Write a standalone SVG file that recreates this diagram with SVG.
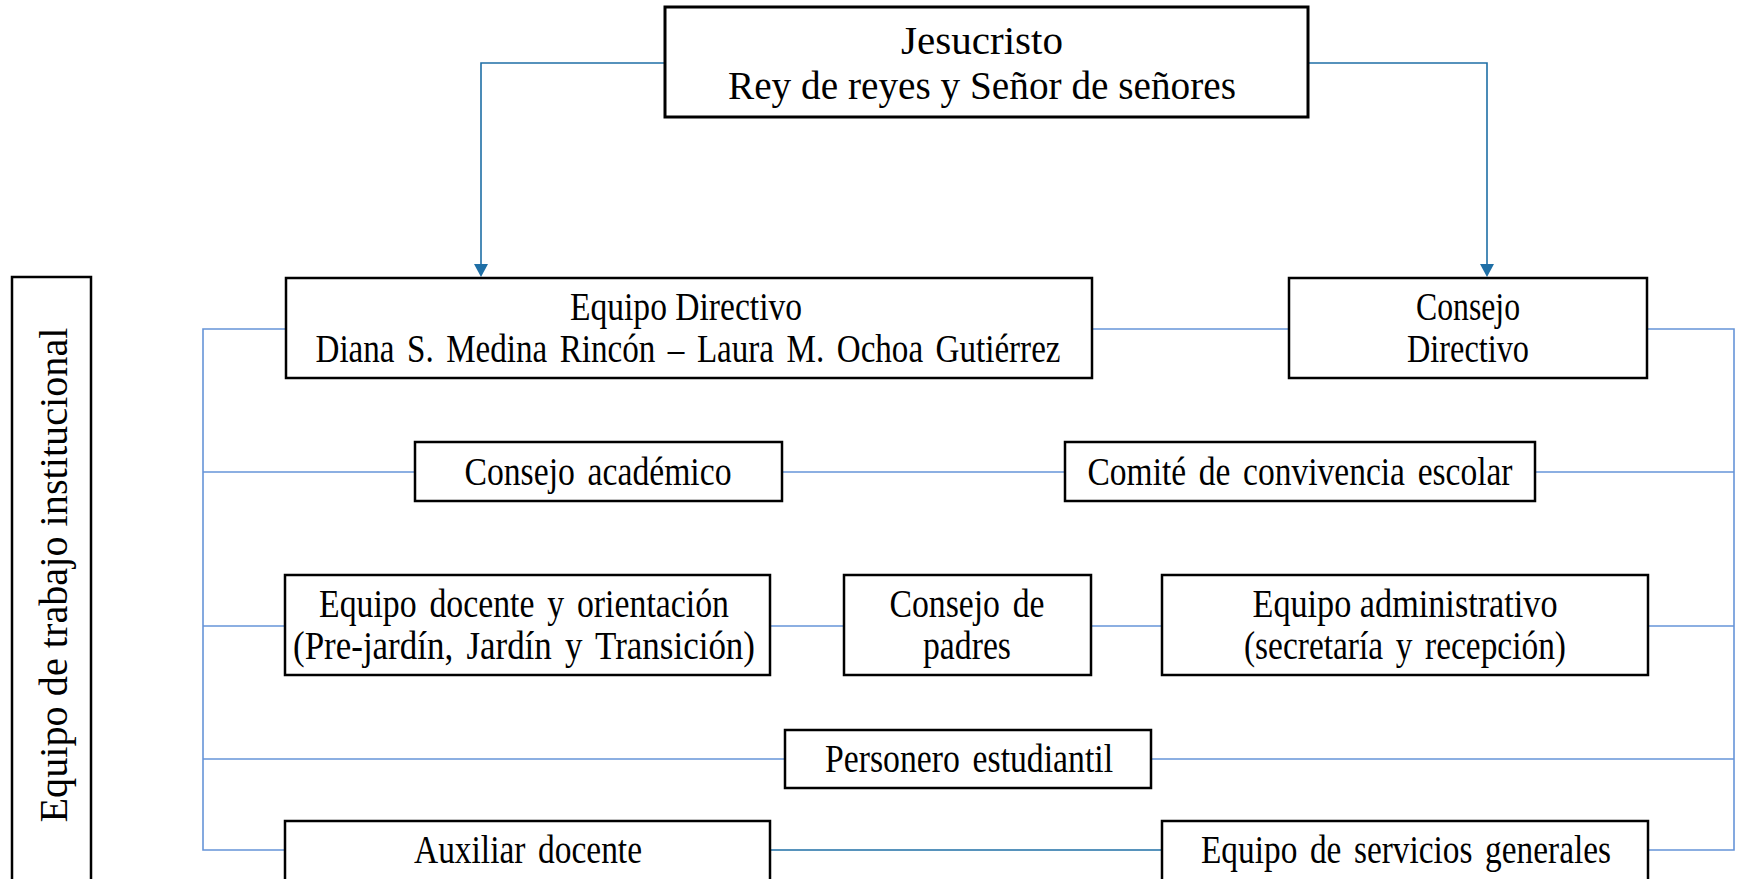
<svg xmlns="http://www.w3.org/2000/svg" width="1737" height="879" viewBox="0 0 1737 879">
<defs>
<style>
.box{fill:#fff;stroke:#000;stroke-width:2.5}
.t{font-family:"Liberation Serif","Times New Roman",serif;font-size:39px;fill:#000;text-anchor:middle}
.w{word-spacing:5px}
.bus{fill:none;stroke:#6694D8;stroke-width:1.6}
.arr{fill:none;stroke:#1F6FA6;stroke-width:1.6}
</style>
</defs>
<rect width="1737" height="879" fill="#fff"/>
<g id="connectors">
<path class="arr" d="M665,63 H481 V265"/>
<path class="arr" d="M1308,63 H1487 V265"/>
<polygon points="474,264 488,264 481,277" fill="#1F6FA6"/>
<polygon points="1480,264 1494,264 1487,277" fill="#1F6FA6"/>
<path class="bus" d="M286,329 H203 V850 H285"/>
<path class="bus" d="M203,472 H415"/>
<path class="bus" d="M203,626 H285"/>
<path class="bus" d="M203,759 H785"/>
<path class="bus" d="M1647,329 H1734 V850 H1648"/>
<path class="bus" d="M1535,472 H1734"/>
<path class="bus" d="M1648,626 H1734"/>
<path class="bus" d="M1151,759 H1734"/>
<path class="bus" d="M1092,329 H1289"/>
<path class="bus" d="M782,472 H1065"/>
<path class="bus" d="M770,626 H844"/>
<path class="bus" d="M1091,626 H1162"/>
<path class="arr" d="M770,850 H1162"/>
</g>
<g id="jesucristo">
<rect class="box" x="665" y="7" width="643" height="110" style="stroke-width:3"/>
<text class="t" x="982" y="54" style="font-size:41px" textLength="162" lengthAdjust="spacingAndGlyphs">Jesucristo</text>
<text class="t" x="982" y="99" style="font-size:41px" textLength="508" lengthAdjust="spacingAndGlyphs">Rey de reyes y Señor de señores</text>
</g>
<g id="equipo-directivo">
<rect class="box" x="286" y="278" width="806" height="100"/>
<text class="t" x="686" y="320" textLength="232" lengthAdjust="spacingAndGlyphs">Equipo Directivo</text>
<text class="t w" x="688" y="362" textLength="745" lengthAdjust="spacingAndGlyphs">Diana S. Medina Rincón – Laura M. Ochoa Gutiérrez</text>
</g>
<g id="consejo-directivo">
<rect class="box" x="1289" y="278" width="358" height="100"/>
<text class="t" x="1468" y="320" textLength="104" lengthAdjust="spacingAndGlyphs">Consejo</text>
<text class="t" x="1468" y="362" textLength="122" lengthAdjust="spacingAndGlyphs">Directivo</text>
</g>
<g id="consejo-academico">
<rect class="box" x="415" y="442" width="367" height="59"/>
<text class="t w" x="598" y="485" textLength="267" lengthAdjust="spacingAndGlyphs">Consejo académico</text>
</g>
<g id="comite-convivencia">
<rect class="box" x="1065" y="442" width="470" height="59"/>
<text class="t w" x="1300" y="485" textLength="425" lengthAdjust="spacingAndGlyphs">Comité de convivencia escolar</text>
</g>
<g id="equipo-docente">
<rect class="box" x="285" y="575" width="485" height="100"/>
<text class="t w" x="524" y="617" textLength="410" lengthAdjust="spacingAndGlyphs">Equipo docente y orientación</text>
<text class="t w" x="524" y="659" textLength="462" lengthAdjust="spacingAndGlyphs">(Pre-jardín, Jardín y Transición)</text>
</g>
<g id="consejo-padres">
<rect class="box" x="844" y="575" width="247" height="100"/>
<text class="t w" x="967" y="617" textLength="155" lengthAdjust="spacingAndGlyphs">Consejo de</text>
<text class="t" x="967" y="659" textLength="88" lengthAdjust="spacingAndGlyphs">padres</text>
</g>
<g id="equipo-administrativo">
<rect class="box" x="1162" y="575" width="486" height="100"/>
<text class="t" x="1405" y="617" textLength="305" lengthAdjust="spacingAndGlyphs">Equipo administrativo</text>
<text class="t w" x="1405" y="659" textLength="322" lengthAdjust="spacingAndGlyphs">(secretaría y recepción)</text>
</g>
<g id="personero">
<rect class="box" x="785" y="730" width="366" height="58"/>
<text class="t w" x="969" y="772" textLength="288" lengthAdjust="spacingAndGlyphs">Personero estudiantil</text>
</g>
<g id="auxiliar-docente">
<rect class="box" x="285" y="821" width="485" height="60"/>
<text class="t w" x="528" y="863" textLength="228" lengthAdjust="spacingAndGlyphs">Auxiliar docente</text>
</g>
<g id="servicios-generales">
<rect class="box" x="1162" y="821" width="486" height="60"/>
<text class="t w" x="1406" y="863" textLength="410" lengthAdjust="spacingAndGlyphs">Equipo de servicios generales</text>
</g>
<g id="equipo-trabajo">
<rect class="box" x="12" y="277" width="79" height="610"/>
<text class="t" transform="translate(67 575) rotate(-90)" x="0" y="0" style="font-size:40px" textLength="495" lengthAdjust="spacingAndGlyphs">Equipo de trabajo institucional</text>
</g>
</svg>
